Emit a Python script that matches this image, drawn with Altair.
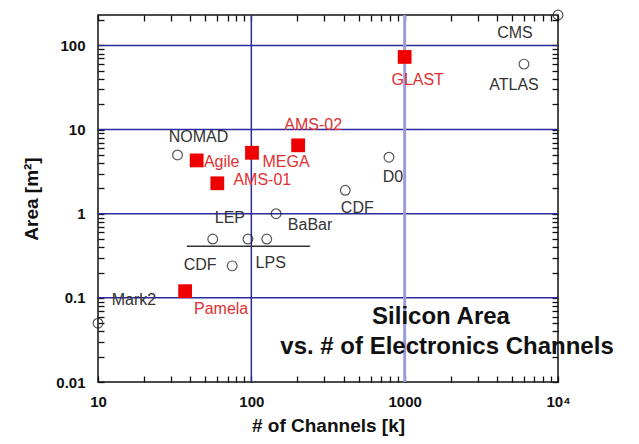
import altair as alt
import pandas as pd

# ---- data ----
circ_name = ["CMS", "ATLAS", "D0", "CDF", "BaBar", "LEP a", "LEP", "LPS", "CDF lo", "Mark2", "NOMAD"]
circ_x = [10000, 6000, 790, 410, 145, 56, 95, 126, 75, 10, 33]
circ_y = [230, 60, 4.7, 1.9, 1.0, 0.5, 0.5, 0.5, 0.24, 0.05, 5.0]
circ_label = ["CMS", "ATLAS", "D0", "CDF", "BaBar", "", "LEP", "LPS", "CDF", "Mark2", "NOMAD"]

sq_name = ["GLAST", "AMS-02", "MEGA", "Agile", "AMS-01", "Pamela"]
sq_x = [1000, 202, 101, 44, 60, 37]
sq_y = [73, 6.5, 5.3, 4.3, 2.3, 0.12]

lep_line_x = [38, 241]
lep_line_y = [0.41, 0.41]

grid_x = [100]
grid_x_light = [1000]
grid_y = [0.1, 1, 10, 100]

x_domain = [10, 10000]
y_domain = [0.01, 230]
x_ticks = [10, 100, 1000, 10000]
y_ticks = [0.01, 0.1, 1, 10, 100]
x_minor = [m * d for d in [10, 100, 1000] for m in range(2, 10)]
y_minor = [m * d for d in [0.01, 0.1, 1, 10, 100] for m in range(2, 10) if m * d <= 230]

# label offsets (layout, pixels, label centre relative to its marker)
circ_off = {"CMS": (-43, 18), "ATLAS": (-10, 21), "D0": (4, 20), "CDF": (12, 18),
            "BaBar": (34, 11), "LEP a": (0, 0), "LEP": (-18, -21), "LPS": (4, 24),
            "CDF lo": (-32, -1), "Mark2": (36, -23), "NOMAD": (21, -18)}
sq_off = {"GLAST": (13, 23), "AMS-02": (15, -20), "MEGA": (34, 9), "Agile": (25, 2),
          "AMS-01": (45, -3), "Pamela": (36, 18)}

W, H = 460, 367
FONT = "Liberation Sans"
TICK = 6

circ = pd.DataFrame({"name": circ_name, "x": circ_x, "y": circ_y, "label": circ_label})
sq = pd.DataFrame({"name": sq_name, "x": sq_x, "y": sq_y, "label": sq_name})

xs = alt.Scale(type="log", domain=x_domain, nice=False)
ys = alt.Scale(type="log", domain=y_domain, nice=False)


def X(field="x"):
    return alt.X(f"{field}:Q", scale=xs, axis=None)


def Y(field="y"):
    return alt.Y(f"{field}:Q", scale=ys, axis=None)


BLUE = "#2b2b9e"
x_major_list = ",".join(str(v) for v in x_ticks)
y_major_list = ",".join(str(v) for v in y_ticks)

# main axes (bottom/left) – moved inward so their ticks point into the plot
base_axes = alt.Chart(pd.DataFrame({"x": [10], "y": [0.01]})).mark_point(opacity=0).encode(
    x=alt.X("x:Q", scale=xs, title="# of Channels [k]",
            axis=alt.Axis(values=x_ticks + x_minor, grid=False, ticks=True, tickSize=TICK,
                          tickColor="#111", tickWidth=1.3, domain=False, offset=-TICK,
                          labelOverlap=False,
                          labelExpr=f"indexof([{x_major_list}], datum.value) < 0 ? '' : "
                                    "(datum.value >= 10000 ? '10⁴' : format(datum.value, 'd'))",
                          labelFont=FONT, labelFontWeight="bold", labelFontSize=15,
                          labelColor="#111", labelPadding=12, labelFlush=False,
                          titleFont=FONT, titleFontWeight="bold", titleFontSize=19,
                          titleColor="#111", titlePadding=7)),
    y=alt.Y("y:Q", scale=ys, title="Area [m²]",
            axis=alt.Axis(values=y_ticks + y_minor, grid=False, ticks=True, tickSize=TICK,
                          tickColor="#111", tickWidth=1.3, domain=False, offset=-TICK,
                          labelOverlap=False,
                          labelExpr=f"indexof([{y_major_list}], datum.value) < 0 ? '' : "
                                    "format(datum.value, '~g')",
                          labelFont=FONT, labelFontWeight="bold", labelFontSize=15,
                          labelColor="#111", labelPadding=13, labelFlush=False,
                          titleFont=FONT, titleFontWeight="bold", titleFontSize=19,
                          titleColor="#111", titlePadding=14)),
)

# mirror ticks on top/right
mirror_axes = alt.Chart(pd.DataFrame({"x": [10], "y": [0.01]})).mark_point(opacity=0).encode(
    x=alt.X("x:Q", scale=xs, title=None,
            axis=alt.Axis(orient="top", values=x_ticks + x_minor, grid=False, ticks=True,
                          tickSize=TICK, tickColor="#111", tickWidth=1.3, domain=False,
                          offset=-TICK, labels=False)),
    y=alt.Y("y:Q", scale=ys, title=None,
            axis=alt.Axis(orient="right", values=y_ticks + y_minor, grid=False, ticks=True,
                          tickSize=TICK, tickColor="#111", tickWidth=1.3, domain=False,
                          offset=-TICK, labels=False)),
)

gy = alt.Chart(pd.DataFrame({"y": grid_y})).mark_rule(color=BLUE, strokeWidth=1.5).encode(y=Y())
gx = alt.Chart(pd.DataFrame({"x": grid_x})).mark_rule(color=BLUE, strokeWidth=1.5).encode(x=X())
gx2 = alt.Chart(pd.DataFrame({"x": grid_x_light})).mark_rule(color="#9c9cdc", strokeWidth=3).encode(x=X())

lep_line = alt.Chart(pd.DataFrame({"x": lep_line_x, "y": lep_line_y})).mark_line(
    color="#333", strokeWidth=1.5).encode(x=X(), y=Y())

circles = alt.Chart(circ).mark_point(shape="circle", filled=False, size=95, color="#111",
                                     strokeWidth=1.2).encode(x=X(), y=Y())
squares = alt.Chart(sq).mark_point(shape="square", filled=True, size=190, color="#ee0000",
                                   opacity=1).encode(x=X(), y=Y())


def label_layer(df, name, off, color):
    dx, dy = off
    return alt.Chart(df).transform_filter(alt.datum.name == name).mark_text(
        font=FONT, fontSize=16, color=color, align="center", baseline="middle",
        dx=dx, dy=dy).encode(x=X(), y=Y(), text="label:N")


labels = [label_layer(circ, n, circ_off[n], "#333") for n, l in zip(circ_name, circ_label) if l]
labels += [label_layer(sq, n, sq_off[n], "#e03030") for n in sq_name]

title1 = alt.Chart(pd.DataFrame({"t": ["Silicon Area"]})).mark_text(
    font=FONT, fontSize=24, fontWeight="bold", color="#111", align="center", baseline="middle").encode(
    x=alt.value(343), y=alt.value(302), text="t:N")
title2 = alt.Chart(pd.DataFrame({"t": ["vs. # of Electronics Channels"]})).mark_text(
    font=FONT, fontSize=24, fontWeight="bold", color="#111", align="center", baseline="middle").encode(
    x=alt.value(349), y=alt.value(332), text="t:N")

chart = alt.layer(base_axes, mirror_axes, gy, gx, gx2, lep_line, circles, squares,
                  *labels, title1, title2).resolve_axis(
    x="independent", y="independent"
).properties(
    width=W, height=H,
    autosize=alt.AutoSizeParams(type="none"),
    padding={"left": 90, "top": 7, "right": 73, "bottom": 54},
    background="white",
).configure_view(stroke="#111", strokeWidth=1.5)

chart.save("out.html", embed_options={"renderer": "svg", "actions": False})
